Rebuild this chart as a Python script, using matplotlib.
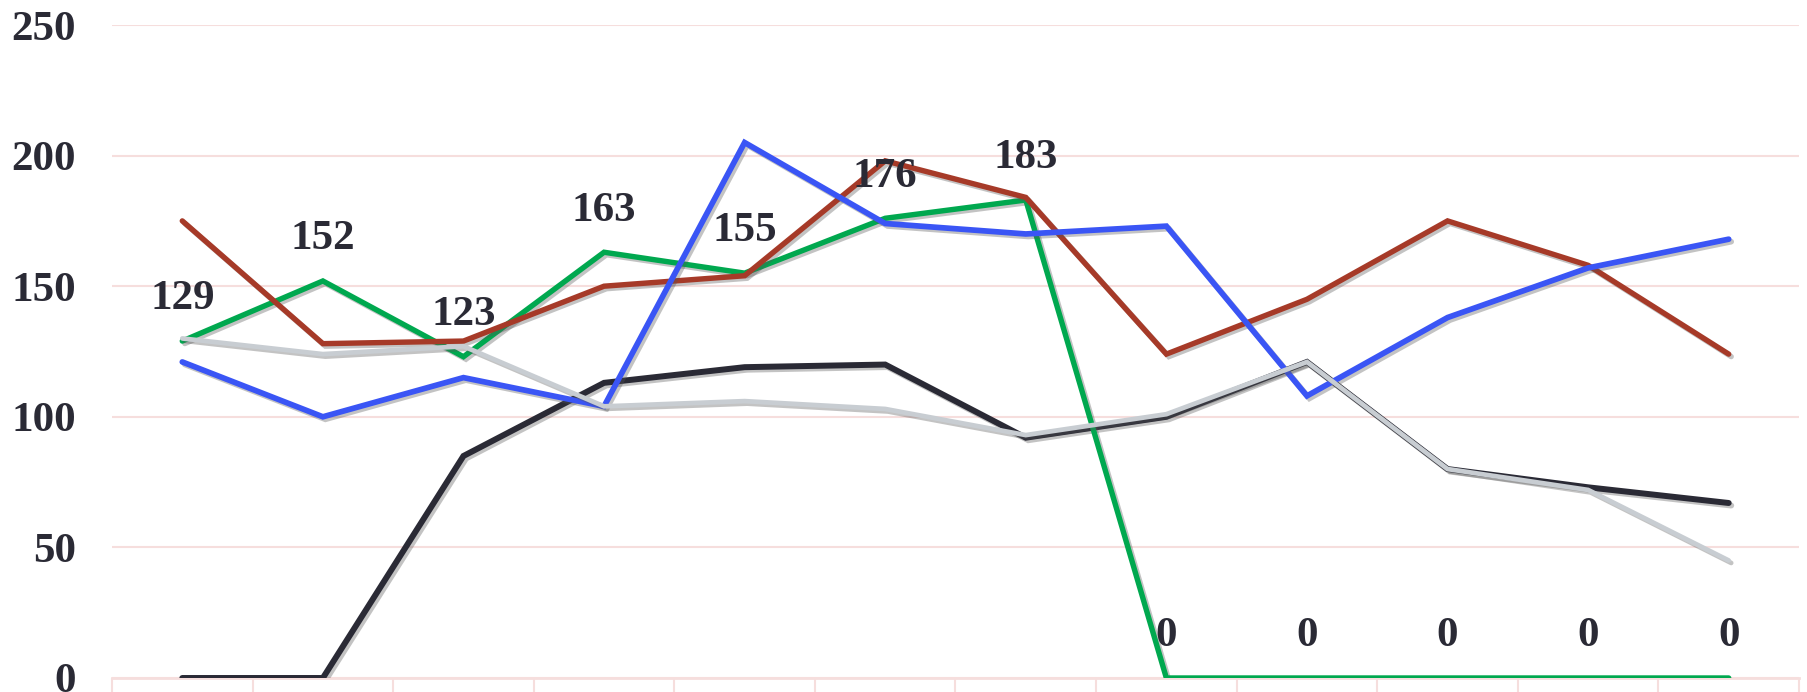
import matplotlib
matplotlib.use("Agg")
import matplotlib.pyplot as plt
import matplotlib.patheffects as pe

# 12 categories, x labels are cropped off in the reference
categories = list(range(1, 13))

green = [129, 152, 123, 163, 155, 176, 183, 0, 0, 0, 0, 0]
red = [175, 128, 129, 150, 154, 198, 184, 124, 145, 175, 158, 124]
blue = [121, 100, 115, 104, 205, 174, 170, 173, 108, 138, 157, 168]
black = [0, 0, 85, 113, 119, 120, 92, 100, 121, 80, 73, 67]
grey = [130, 124, 127, 104, 106, 103, 93, 101, 121, 80, 72, 45]

yticks = [0, 50, 100, 150, 200, 250]

fig = plt.figure(figsize=(18.07, 6.92), dpi=100)
ax = fig.add_axes([112 / 1807, 14 / 692, (1799 - 112) / 1807, (678 - 25) / 692])

grid_col = "#f6dedd"
text_col = "#2a2a35"
shadow = [pe.SimpleLineShadow(offset=(1.8, -1.8), alpha=0.35, shadow_color="#555555"),
          pe.Normal()]

series = [
    (black, "#2a2a35", 4.3),
    (green, "#00a84f", 3.9),
    (red, "#a63a28", 3.9),
    (blue, "#3a55f5", 4.1),
    (grey, "#c8cdd2", 3.4),
]
for i, (vals, col, lw) in enumerate(series):
    ax.plot(categories, vals, color=col, lw=lw, solid_joinstyle="miter",
            solid_capstyle="round", zorder=3 + i, path_effects=shadow)

# data labels for the green series
for x, v in zip(categories, green):
    ax.annotate(str(v), (x, v), xytext=(0, 30), textcoords="offset points",
                ha="center", va="center", fontsize=31, fontweight="bold",
                family="Liberation Serif", color=text_col, zorder=10)

ax.set_xlim(0.5, 12.5)
ax.set_ylim(0, 250)
ax.set_yticks(yticks)
ax.set_yticklabels([str(t) for t in yticks], fontsize=31, fontweight="bold",
                   family="Liberation Serif", color=text_col)
ax.tick_params(axis="y", length=0, pad=26)

# category boundary ticks below the axis
ax.set_xticks([c + 0.5 for c in [0] + categories])
ax.set_xticklabels([])
ax.tick_params(axis="x", length=14, width=1.5, color=grid_col, direction="out")

ax.yaxis.grid(True, color=grid_col, lw=1.5)
ax.set_axisbelow(True)
for s in ["top", "right", "left"]:
    ax.spines[s].set_visible(False)
ax.spines["bottom"].set_color(grid_col)
ax.spines["bottom"].set_linewidth(2)

fig.savefig("out.png", dpi=100)
